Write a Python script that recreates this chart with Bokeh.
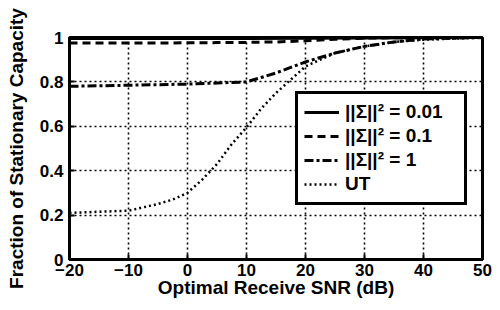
from bokeh.plotting import figure
from bokeh.models import FixedTicker, Legend, LegendItem, Range1d
from bokeh.embed import file_html
from bokeh.resources import INLINE

# data
snr_a = [-20, -10, 0, 10, 20, 30, 40, 50]
cap_001 = [0.995, 0.995, 0.996, 0.996, 0.997, 0.998, 0.999, 1.0]

snr_b = [-20, -10, 0, 5, 10, 15, 20, 25, 30, 35, 40, 50]
cap_01 = [0.975, 0.975, 0.976, 0.977, 0.978, 0.980, 0.985, 0.992, 0.997, 0.999, 1.0, 1.0]

snr_c = [-20, -10, 0, 5, 10, 12.5, 15, 17.5, 20, 25, 30, 35, 40, 50]
cap_1 = [0.78, 0.785, 0.79, 0.795, 0.80, 0.82, 0.84, 0.865, 0.89, 0.93, 0.96, 0.98, 0.993, 1.0]

snr_ut = [-20, -15, -10, -5, -2.5, 0, 2.5, 5, 7.5, 10, 12.5, 15, 17.5, 20, 25, 30, 35, 40, 50]
cap_ut = [0.21, 0.215, 0.22, 0.25, 0.27, 0.30, 0.36, 0.43, 0.52, 0.595, 0.68, 0.75, 0.81, 0.87, 0.93, 0.96, 0.98, 0.99, 1.0]

x_ticks = [-20, -10, 0, 10, 20, 30, 40, 50]
x_labels = ["\u221220", "\u221210", "0", "10", "20", "30", "40", "50"]
y_ticks = [0, 0.2, 0.4, 0.6, 0.8, 1]
y_labels = ["0", "0.2", "0.4", "0.6", "0.8", "1"]

legend_labels = ["||\u03a3||\u00b2 = 0.01", "||\u03a3||\u00b2 = 0.1", "||\u03a3||\u00b2 = 1", "UT"]

FONT = "Liberation Sans"

p = figure(width=492, height=302, output_backend="svg", toolbar_location=None,
           x_range=Range1d(-20, 50), y_range=Range1d(0, 1),
           min_border_left=69, min_border_right=10, min_border_top=37, min_border_bottom=43)

p.outline_line_color = "black"
p.outline_line_width = 3
p.outline_line_alpha = 1
p.background_fill_color = "white"
p.border_fill_color = "white"

for ax in (p.xaxis[0], p.yaxis[0]):
    ax.axis_line_width = 3
    ax.axis_line_color = "black"
    ax.axis_line_alpha = 1
    ax.major_tick_in = 5
    ax.major_tick_out = 0
    ax.major_tick_line_width = 2
    ax.major_tick_line_color = "black"
    ax.minor_tick_line_color = None
    ax.major_label_text_font = FONT
    ax.major_label_text_font_style = "bold"
    ax.major_label_text_font_size = "17px"
    ax.major_label_text_color = "black"
    ax.axis_label_text_font = FONT
    ax.axis_label_text_font_style = "bold"
    ax.axis_label_text_color = "black"

p.xaxis.ticker = FixedTicker(ticks=x_ticks)
p.yaxis.ticker = FixedTicker(ticks=y_ticks)
p.xaxis.major_label_overrides = dict(zip(x_ticks, x_labels))
p.yaxis.major_label_overrides = dict(zip(y_ticks, y_labels))
p.xaxis.major_label_standoff = 4
p.yaxis.major_label_standoff = 6
p.xaxis.axis_label = "Optimal Receive SNR (dB)"
p.yaxis.axis_label = "Fraction of Stationary Capacity"
p.xaxis.axis_label_text_font_size = "19px"
p.yaxis.axis_label_text_font_size = "19px"
p.xaxis.axis_label_standoff = -2
p.yaxis.axis_label_standoff = 10

for g in (p.xgrid[0], p.ygrid[0]):
    g.grid_line_color = "black"
    g.grid_line_alpha = 1
    g.grid_line_width = 1.6
    g.grid_line_dash = "2 3"

r1 = p.line(snr_a, cap_001, line_color="black", line_width=3)
r2 = p.line(snr_b, cap_01, line_color="black", line_width=3, line_dash="8 5")
r3 = p.line(snr_c, cap_1, line_color="black", line_width=3, line_dash="9 3 3 3")
r4 = p.line(snr_ut, cap_ut, line_color="black", line_width=2.5, line_dash="2 3")

legend = Legend(items=[LegendItem(label=legend_labels[0], renderers=[r1]),
                       LegendItem(label=legend_labels[1], renderers=[r2]),
                       LegendItem(label=legend_labels[2], renderers=[r3]),
                       LegendItem(label=legend_labels[3], renderers=[r4])],
                location=(226, 54))
legend.border_line_color = "black"
legend.border_line_width = 3
legend.border_line_alpha = 1
legend.background_fill_color = "white"
legend.background_fill_alpha = 1
legend.label_text_font = FONT
legend.label_text_font_style = "bold"
legend.label_text_font_size = "19px"
legend.label_text_color = "black"
legend.label_height = 24
legend.label_width = 113
legend.glyph_width = 35
legend.glyph_height = 24
legend.spacing = 0
legend.padding = 6
legend.margin = 0
legend.label_standoff = 6
p.add_layout(legend, "center")

open("out.html", "w").write(file_html(p, INLINE))
